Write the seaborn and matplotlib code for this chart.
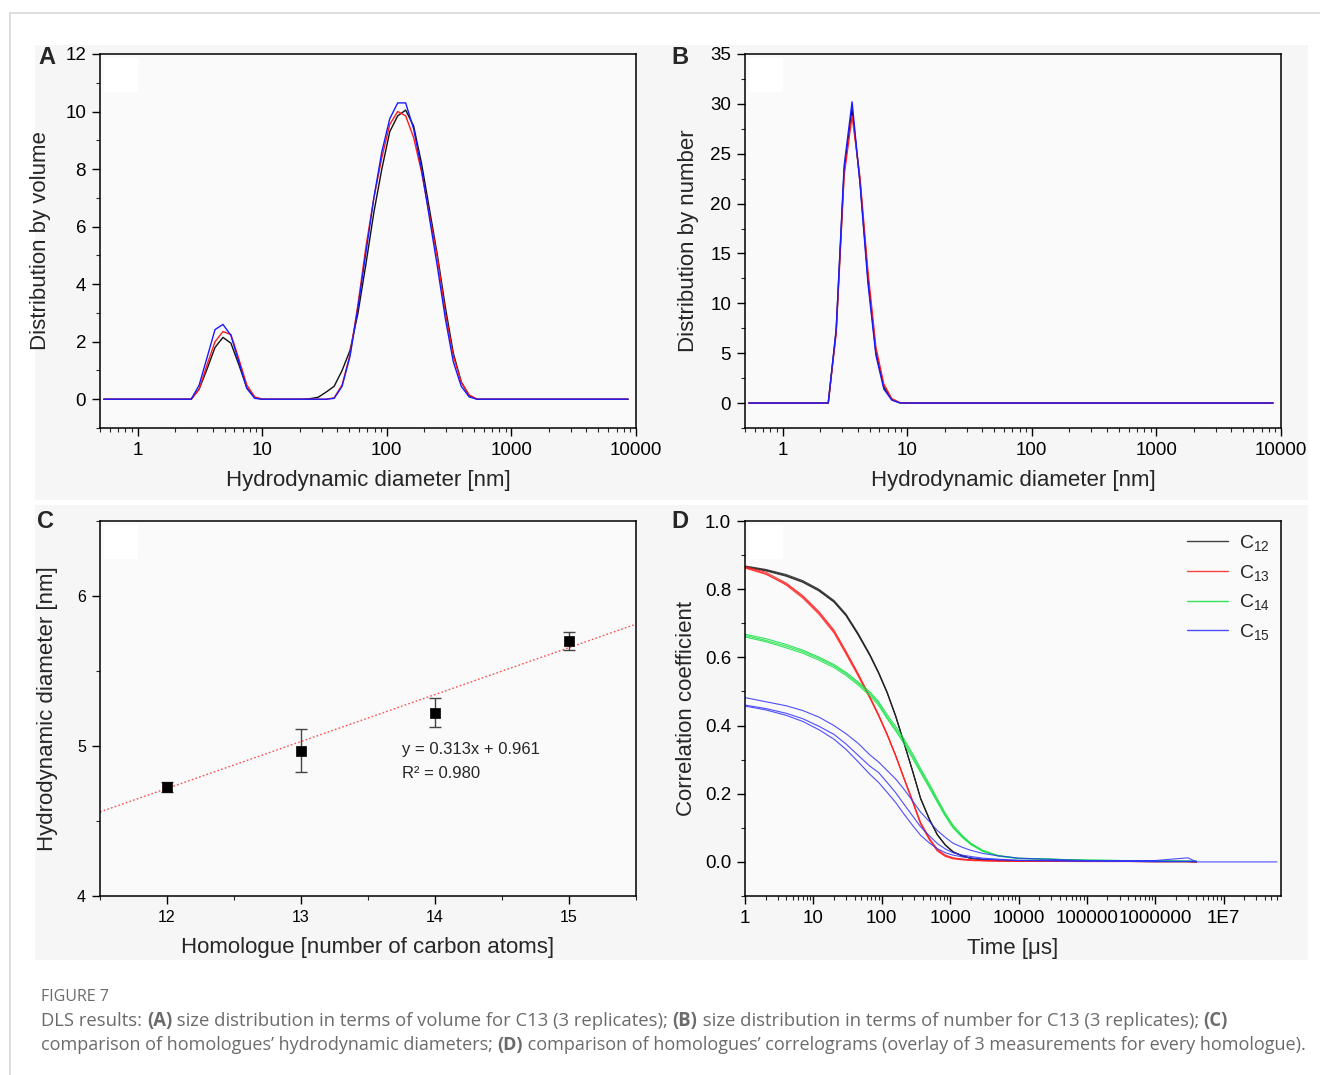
import numpy as np
import pandas as pd
import matplotlib
matplotlib.use("Agg")
import matplotlib.pyplot as plt
import seaborn as sns
from matplotlib.ticker import LogLocator, MultipleLocator, FuncFormatter, NullFormatter
from matplotlib.patches import Rectangle
from matplotlib.lines import Line2D

# ---------------- data ----------------
# size bins (nm) of the DLS size distributions
DIAMETER_NM = [0.5365, 2.010, 2.328, 2.696, 3.122, 3.615, 4.187, 4.849, 5.615, 6.503,
               7.531, 8.721, 10.10, 11.70, 13.54, 15.69, 18.17, 21.04, 24.36, 28.21,
               32.67, 37.84, 43.82, 50.75, 58.77, 68.06, 78.82, 91.28, 105.7, 122.4,
               141.8, 164.2, 190.1, 220.2, 255.0, 295.3, 342.0, 396.1, 458.7, 531.2,
               615.1, 8635]

# panel A: distribution by volume, C13, 3 replicates
VOL_REP1 = [0, 0, 0, 0, 0.35, 1.05, 1.8, 2.15, 1.95, 1.2,
            0.4, 0.05, 0, 0, 0, 0, 0, 0, 0.02, 0.07,
            0.25, 0.45, 1.0, 1.7, 3.0, 4.7, 6.5, 8.0, 9.3, 9.85,
            10.05, 9.5, 8.2, 6.6, 5.0, 3.2, 1.6, 0.6, 0.12, 0,
            0, 0]
VOL_REP2 = [0, 0, 0, 0, 0.35, 1.2, 2.0, 2.35, 2.25, 1.4,
            0.5, 0.08, 0, 0, 0, 0, 0, 0, 0, 0,
            0, 0.05, 0.5, 1.55, 3.3, 5.3, 7.0, 8.4, 9.55, 10.0,
            9.85, 9.1, 7.9, 6.4, 4.9, 3.0, 1.5, 0.6, 0.15, 0,
            0, 0]
VOL_REP3 = [0, 0, 0, 0, 0.49, 1.45, 2.42, 2.6, 2.22, 1.3,
            0.38, 0.03, 0, 0, 0, 0, 0, 0, 0, 0,
            0, 0.03, 0.45, 1.5, 3.2, 5.1, 7.0, 8.6, 9.75, 10.3,
            10.3, 9.4, 8.0, 6.3, 4.6, 2.8, 1.3, 0.45, 0.08, 0,
            0, 0]

# panel B: distribution by number, C13, 3 replicates
NUM_REP1 = [0, 0, 0, 7.3, 23.3, 29.5, 22.2, 12.5, 5.1, 1.6,
            0.35, 0.02, 0, 0, 0, 0, 0, 0, 0, 0,
            0, 0, 0, 0, 0, 0, 0, 0, 0, 0,
            0, 0, 0, 0, 0, 0, 0, 0, 0, 0,
            0, 0]
NUM_REP2 = [0, 0, 0, 7.0, 22.8, 28.8, 22.6, 13.2, 5.6, 1.9,
            0.45, 0.05, 0, 0, 0, 0, 0, 0, 0, 0,
            0, 0, 0, 0, 0, 0, 0, 0, 0, 0,
            0, 0, 0, 0, 0, 0, 0, 0, 0, 0,
            0, 0]
NUM_REP3 = [0, 0, 0, 7.4, 23.8, 30.2, 22.0, 12.0, 4.8, 1.4,
            0.3, 0.02, 0, 0, 0, 0, 0, 0, 0, 0,
            0, 0, 0, 0, 0, 0, 0, 0, 0, 0,
            0, 0, 0, 0, 0, 0, 0, 0, 0, 0,
            0, 0]
REPLICATES = ["rep 1", "rep 2", "rep 3"]

# panel C: hydrodynamic diameter vs homologue
HOMOLOGUE = [12, 13, 14, 15]
DIAM_MEAN = [4.729, 4.969, 5.222, 5.700]
DIAM_ERR = [0.033, 0.142, 0.096, 0.062]
FIT_SLOPE = 0.313
FIT_INTERCEPT = 0.961
FIT_TEXT = ["y = 0.313x + 0.961", "R² = 0.980"]

# panel D: correlograms (3 measurements per homologue)
nan = float("nan")
TIME_US = [1, 2, 4, 7, 12, 20, 30, 45, 67, 90, 120, 160, 210, 280, 370, 500, 650, 850,
           1100, 1500, 2000, 3000, 5000, 10000, 1e5, 1e6, 3e6, 4e6, 6e7]
C12_A = [0.866, 0.856, 0.840, 0.822, 0.797, 0.764, 0.724, 0.668, 0.607, 0.555, 0.497, 0.428, 0.352, 0.270, 0.187,
         0.125, 0.080, 0.050, 0.030, 0.018, 0.011, 0.007, 0.004, 0.003, 0.002, 0.001, 0.001, 0.000, nan]
C12_B = [0.868, 0.858, 0.843, 0.825, 0.800, 0.767, 0.727, 0.671, 0.609, 0.556, 0.498, 0.428, 0.351, 0.268, 0.185,
         0.123, 0.079, 0.049, 0.029, 0.017, 0.010, 0.006, 0.004, 0.003, 0.002, 0.001, 0.001, 0.000, nan]
C12_C = [0.864, 0.854, 0.838, 0.820, 0.795, 0.762, 0.722, 0.666, 0.605, 0.553, 0.495, 0.426, 0.350, 0.269, 0.186,
         0.124, 0.080, 0.050, 0.030, 0.018, 0.011, 0.007, 0.005, 0.003, 0.002, 0.001, 0.001, 0.000, nan]
C13_A = [0.866, 0.850, 0.818, 0.781, 0.735, 0.680, 0.618, 0.553, 0.485, 0.432, 0.375, 0.312, 0.247, 0.180, 0.113,
         0.066, 0.034, 0.018, 0.011, 0.008, 0.006, 0.004, 0.003, 0.002, 0.002, 0.001, 0.001, 0.000, nan]
C13_B = [0.864, 0.846, 0.812, 0.774, 0.727, 0.672, 0.610, 0.546, 0.480, 0.428, 0.372, 0.310, 0.245, 0.178, 0.111,
         0.064, 0.032, 0.016, 0.009, 0.006, 0.004, 0.003, 0.002, 0.002, 0.001, 0.001, 0.001, 0.000, nan]
C13_C = [0.862, 0.844, 0.815, 0.778, 0.731, 0.676, 0.614, 0.550, 0.483, 0.430, 0.374, 0.312, 0.248, 0.182, 0.116,
         0.069, 0.037, 0.020, 0.012, 0.008, 0.006, 0.004, 0.003, 0.002, 0.002, 0.001, 0.001, 0.000, nan]
C14_A = [0.664, 0.650, 0.633, 0.617, 0.597, 0.575, 0.552, 0.524, 0.494, 0.465, 0.425, 0.390, 0.355, 0.312, 0.268,
         0.222, 0.180, 0.138, 0.104, 0.075, 0.053, 0.032, 0.018, 0.010, 0.005, 0.003, 0.002, 0.002, nan]
C14_B = [0.668, 0.655, 0.638, 0.621, 0.601, 0.579, 0.556, 0.528, 0.499, 0.470, 0.432, 0.397, 0.362, 0.319, 0.274,
         0.228, 0.185, 0.143, 0.108, 0.078, 0.055, 0.034, 0.019, 0.011, 0.005, 0.003, 0.002, 0.002, nan]
C14_C = [0.660, 0.646, 0.628, 0.612, 0.592, 0.570, 0.547, 0.519, 0.488, 0.459, 0.420, 0.384, 0.348, 0.305, 0.262,
         0.216, 0.175, 0.134, 0.100, 0.072, 0.051, 0.031, 0.017, 0.010, 0.005, 0.003, 0.002, 0.002, nan]
C15_A = [0.482, 0.470, 0.458, 0.444, 0.425, 0.400, 0.376, 0.348, 0.314, 0.293, 0.268, 0.243, 0.214, 0.180, 0.146,
         0.118, 0.092, 0.072, 0.055, 0.043, 0.034, 0.025, 0.018, 0.011, 0.004, 0.004, 0.012, 0.000, 0.000]
C15_B = [0.460, 0.450, 0.436, 0.420, 0.398, 0.374, 0.346, 0.313, 0.281, 0.262, 0.233, 0.203, 0.170, 0.136, 0.103,
         0.076, 0.054, 0.038, 0.027, 0.020, 0.016, 0.011, 0.008, 0.005, 0.003, 0.002, 0.002, 0.002, nan]
C15_C = [0.457, 0.446, 0.430, 0.412, 0.388, 0.360, 0.330, 0.294, 0.257, 0.233, 0.204, 0.174, 0.141, 0.108, 0.078,
         0.055, 0.039, 0.027, 0.020, 0.015, 0.012, 0.008, 0.006, 0.004, 0.002, 0.001, 0.001, 0.001, nan]
HOMOLOGUE_LABELS = ["C$_{12}$", "C$_{13}$", "C$_{14}$", "C$_{15}$"]
HOMOLOGUE_COLORS = ["#202020", "#ff2020", "#10e040", "#3030ff"]

# ---------------- style ----------------
sns.set_theme(style="ticks")
plt.rcParams['font.family'] = ['Liberation Sans', 'DejaVu Sans']
plt.rcParams['mathtext.fontset'] = 'custom'
plt.rcParams['mathtext.rm'] = 'Liberation Sans'
plt.rcParams['mathtext.it'] = 'Liberation Sans:italic'
plt.rcParams['axes.unicode_minus'] = False

W, H = 1320, 1075
fig = plt.figure(figsize=(W / 100, H / 100), dpi=100, facecolor='white')


def fx(px):
    return px / W


def fy(py):
    return 1 - py / H


# page frame and panel backgrounds
fig.add_artist(Line2D([fx(10), 1], [fy(13), fy(13)], color='#d8d8d8', lw=1.2, transform=fig.transFigure))
fig.add_artist(Line2D([fx(10), fx(10)], [fy(13), 0], color='#d8d8d8', lw=1.2, transform=fig.transFigure))
fig.add_artist(Rectangle((fx(35), fy(500)), fx(1308 - 35), (500 - 45) / H, transform=fig.transFigure,
                         facecolor='#f6f6f6', edgecolor='none', zorder=-10))
fig.add_artist(Rectangle((fx(35), fy(960)), fx(1308 - 35), (960 - 505) / H, transform=fig.transFigure,
                         facecolor='#f6f6f6', edgecolor='none', zorder=-10))

TICK_FS = 13.5
LABEL_FS = 16


def add_ax(l, t, r, b):
    ax = fig.add_axes([fx(l), fy(b), (r - l) / W, (b - t) / H])
    ax.set_facecolor('#fafafa')
    for s in ax.spines.values():
        s.set_visible(True)
        s.set_color('black')
        s.set_linewidth(1.1)
    ax.tick_params(which='major', direction='out', length=6, width=1.0, labelsize=TICK_FS, pad=4,
                   colors='black', top=False, right=False)
    ax.tick_params(which='minor', direction='out', length=3, width=0.8, top=False, right=False)
    wpx, hpx = r - l, b - t
    ax.add_patch(Rectangle((4 / wpx, 1 - 38 / hpx), 34 / wpx, 34 / hpx, transform=ax.transAxes,
                           facecolor='white', edgecolor='none', zorder=0.5))
    return ax


def log_ticks(ax, labeller):
    ax.set_xscale('log')
    ax.xaxis.set_major_locator(LogLocator(base=10, numticks=20))
    ax.xaxis.set_minor_locator(LogLocator(base=10, subs=np.arange(2, 10), numticks=100))
    ax.xaxis.set_major_formatter(FuncFormatter(labeller))
    ax.xaxis.set_minor_formatter(NullFormatter())


def int_label(v, p):
    return f"{int(round(v))}"


def time_label(v, p):
    return "1E7" if v >= 1e7 - 1 else f"{int(round(v))}"


# ---------------- panel A ----------------
axA = add_ax(100, 54, 636, 428)
dfA = pd.DataFrame({'d': DIAMETER_NM * 3,
                    'v': VOL_REP1 + VOL_REP2 + VOL_REP3,
                    'rep': sum([[r] * len(DIAMETER_NM) for r in REPLICATES], [])})
sns.lineplot(data=dfA, x='d', y='v', hue='rep', hue_order=REPLICATES,
             palette=['#111111', '#ff1a1a', '#1a1aff'], estimator=None, sort=False,
             lw=1.0, legend=False, ax=axA)
log_ticks(axA, int_label)
axA.set_xlim(0.5, 10000)
axA.set_ylim(-1, 12)
axA.yaxis.set_major_locator(MultipleLocator(2))
axA.yaxis.set_minor_locator(MultipleLocator(1))
axA.set_xlabel('Hydrodynamic diameter [nm]', fontsize=LABEL_FS, labelpad=8)
axA.set_ylabel('Distribution by volume', fontsize=LABEL_FS, labelpad=10)

# ---------------- panel B ----------------
axB = add_ax(745, 54, 1281, 428)
dfB = pd.DataFrame({'d': DIAMETER_NM * 3,
                    'v': NUM_REP1 + NUM_REP2 + NUM_REP3,
                    'rep': sum([[r] * len(DIAMETER_NM) for r in REPLICATES], [])})
sns.lineplot(data=dfB, x='d', y='v', hue='rep', hue_order=REPLICATES,
             palette=['#111111', '#ff1a1a', '#1a1aff'], estimator=None, sort=False,
             lw=1.0, legend=False, ax=axB)
log_ticks(axB, int_label)
axB.set_xlim(0.5, 10000)
axB.set_ylim(-2.5, 35)
axB.yaxis.set_major_locator(MultipleLocator(5))
axB.yaxis.set_minor_locator(MultipleLocator(2.5))
axB.set_xlabel('Hydrodynamic diameter [nm]', fontsize=LABEL_FS, labelpad=8)
axB.set_ylabel('Distribution by number', fontsize=LABEL_FS, labelpad=8)

# ---------------- panel C ----------------
axC = add_ax(100, 521, 636, 896)
dfC = pd.DataFrame({'n': HOMOLOGUE, 'd': DIAM_MEAN, 'e': DIAM_ERR})
axC.axline((0, FIT_INTERCEPT), slope=FIT_SLOPE, color='#ff3030', ls=(0, (1.2, 1.6)), lw=1.0,
           alpha=0.85, zorder=1)
axC.errorbar(dfC['n'], dfC['d'], yerr=dfC['e'], fmt='none', ecolor='#444444', elinewidth=1.0,
             capsize=4, capthick=1.0, zorder=2)
sns.scatterplot(data=dfC, x='n', y='d', marker='s', s=55, color='black', edgecolor='black',
                linewidth=0.5, ax=axC, zorder=3)
axC.set_xlim(11.5, 15.5)
axC.set_ylim(4, 6.5)
axC.xaxis.set_major_locator(MultipleLocator(1))
axC.xaxis.set_minor_locator(MultipleLocator(0.5))
axC.yaxis.set_major_locator(MultipleLocator(1))
axC.yaxis.set_minor_locator(MultipleLocator(0.5))
axC.xaxis.set_major_formatter(FuncFormatter(int_label))
axC.yaxis.set_major_formatter(FuncFormatter(int_label))
axC.tick_params(which='major', labelsize=11.5)
axC.text(13.75, 4.975, FIT_TEXT[0], fontsize=12, ha='left', va='center')
axC.text(13.75, 4.82, FIT_TEXT[1], fontsize=12, ha='left', va='center')
axC.set_xlabel('Homologue [number of carbon atoms]', fontsize=LABEL_FS, labelpad=9)
axC.set_ylabel('Hydrodynamic diameter [nm]', fontsize=LABEL_FS, labelpad=14)

# ---------------- panel D ----------------
axD = add_ax(745, 521, 1281, 896)
series = [("C12", C12_A), ("C12", C12_B), ("C12", C12_C),
          ("C13", C13_A), ("C13", C13_B), ("C13", C13_C),
          ("C14", C14_A), ("C14", C14_B), ("C14", C14_C),
          ("C15", C15_A), ("C15", C15_B), ("C15", C15_C)]
rows = []
for i, (h, vals) in enumerate(series):
    for t, g in zip(TIME_US, vals):
        rows.append({'t': t, 'g': g, 'hom': h, 'run': f"{h}-{i % 3}"})
dfD = pd.DataFrame(rows).dropna()
hom_order = ["C12", "C13", "C14", "C15"]
sns.lineplot(data=dfD, x='t', y='g', hue='hom', hue_order=hom_order, units='run',
             palette=dict(zip(hom_order, HOMOLOGUE_COLORS)), estimator=None, sort=False,
             lw=0.8, alpha=0.85, legend=False, ax=axD)
log_ticks(axD, time_label)
axD.set_xlim(1, 6.9e7)
axD.set_ylim(-0.1, 1.0)
axD.yaxis.set_major_locator(MultipleLocator(0.2))
axD.yaxis.set_minor_locator(MultipleLocator(0.1))
axD.yaxis.set_major_formatter(FuncFormatter(lambda v, p: f"{v:.1f}"))
axD.set_xlabel('Time [μs]', fontsize=LABEL_FS, labelpad=8)
axD.set_ylabel('Correlation coefficient', fontsize=LABEL_FS, labelpad=6)
handles = [Line2D([], [], color=c, lw=1.0, alpha=0.85) for c in HOMOLOGUE_COLORS]
axD.legend(handles, HOMOLOGUE_LABELS, loc='upper right', bbox_to_anchor=(1.012, 1.015), frameon=False,
           fontsize=14, handlelength=2.1, handletextpad=0.55, labelspacing=0.5)

# panel letters
for letter, (px, py) in zip("ABCD", [(47, 58), (680, 58), (46, 521), (680, 521)]):
    fig.text(fx(px), fy(py), letter, fontsize=17, fontweight='bold', ha='center', va='center')

# ---------------- caption ----------------
CAP_COLOR = '#6b6b6b'
fig.text(fx(41), fy(997), "FIGURE 7", fontsize=11.5, color=CAP_COLOR, ha='left', va='center',
         family=['Open Sans', 'DejaVu Sans'])
line1 = [("DLS results: ", False), ("(A)", True),
         (" size distribution in terms of volume for C13 (3 replicates); ", False), ("(B)", True),
         (" size distribution in terms of number for C13 (3 replicates); ", False), ("(C)", True)]
line2 = [("comparison of homologues’ hydrodynamic diameters; ", False), ("(D)", True),
         (" comparison of homologues’ correlograms (overlay of 3 measurements for every homologue).", False)]
renderer = fig.canvas.get_renderer()


def caption_line(pieces, py, target_w, fs0=12.0):
    texts = []
    for s, b in pieces:
        texts.append(fig.text(0, fy(py), s, fontsize=fs0, color=CAP_COLOR, ha='left', va='center',
                              fontweight='bold' if b else 'normal', family=['Open Sans', 'DejaVu Sans']))
    total = sum(t.get_window_extent(renderer).width for t in texts)
    fs = fs0 * target_w / total
    x = 41
    for t in texts:
        t.set_fontsize(fs)
        t.set_x(fx(x))
        x += t.get_window_extent(renderer).width


caption_line(line1, 1021, 1181)
caption_line(line2, 1045, 1259)

fig.savefig("out.png", dpi=100, facecolor='white')
